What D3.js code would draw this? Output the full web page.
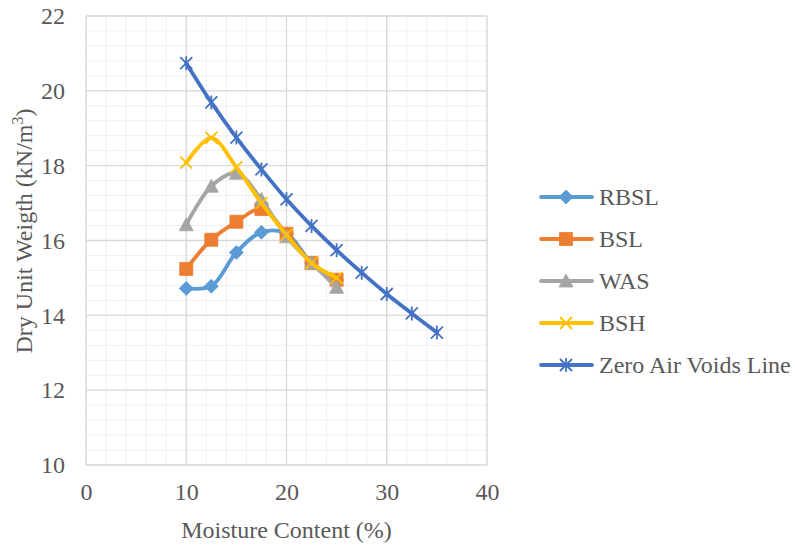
<!DOCTYPE html>
<html>
<head>
<meta charset="utf-8">
<script src="https://cdn.jsdelivr.net/npm/d3@7"></script>
</head>
<body style="margin:0; background:#fff">
<svg id="chart" width="795" height="545"></svg>
<script>
// moisture content (%) for each series
const xLab = [10, 12.5, 15, 17.5, 20, 22.5, 25];
const xZav = [10, 12.5, 15, 17.5, 20, 22.5, 25, 27.5, 30, 32.5, 35];

// dry unit weight (kN/m3)
const rbsl = [14.72, 14.78, 15.68, 16.22, 16.18, 15.40, 14.95];
const bsl  = [15.24, 16.02, 16.50, 16.84, 16.18, 15.40, 14.95];
const was  = [16.42, 17.45, 17.80, 17.10, 16.10, 15.40, 14.75];
const bsh  = [18.08, 18.74, 17.96, 17.00, 16.15, 15.40, 15.00];
const zav  = [20.74, 19.69, 18.75, 17.90, 17.10, 16.39, 15.74, 15.14, 14.57, 14.05, 13.54];

const seriesNames = ["RBSL", "BSL", "WAS", "BSH", "Zero Air Voids Line"];
const seriesColors = ["#5B9BD5", "#ED7D31", "#A5A5A5", "#FFC000", "#4472C4"];
const seriesMarkers = ["diamond", "square", "triangle", "x", "star"];

const xTicks = [0, 10, 20, 30, 40];
const yTicks = [10, 12, 14, 16, 18, 20, 22];

const FONT = "Liberation Serif";
const FS = 24;
const TXT = "#595959";

const svg = d3.select("#chart");
const plot = { left: 86, right: 487, top: 16, bottom: 465 };

const x = d3.scaleLinear().domain([0, 40]).range([plot.left, plot.right]);
const y = d3.scaleLinear().domain([10, 22]).range([plot.bottom, plot.top]);

// minor grid
const g = svg.append("g");
g.selectAll(".minor-x")
    .data(d3.range(0, 40.01, 2))
    .enter().append("line")
    .attr("x1", d => x(d)).attr("x2", d => x(d))
    .attr("y1", plot.top).attr("y2", plot.bottom)
    .attr("stroke", "#efefef").attr("stroke-width", 1);
g.selectAll(".minor-y")
    .data(d3.range(10, 22.01, 0.4))
    .enter().append("line")
    .attr("y1", d => y(d)).attr("y2", d => y(d))
    .attr("x1", plot.left).attr("x2", plot.right)
    .attr("stroke", "#efefef").attr("stroke-width", 1);

// major grid
g.selectAll(".major-x")
    .data(xTicks)
    .enter().append("line")
    .attr("x1", d => x(d)).attr("x2", d => x(d))
    .attr("y1", plot.top).attr("y2", plot.bottom)
    .attr("stroke", "#d9d9d9").attr("stroke-width", 1.3);
g.selectAll(".major-y")
    .data(yTicks)
    .enter().append("line")
    .attr("y1", d => y(d)).attr("y2", d => y(d))
    .attr("x1", plot.left).attr("x2", plot.right)
    .attr("stroke", "#d9d9d9").attr("stroke-width", 1.3);

// axes (labels only)
const xAxis = svg.append("g")
    .attr("transform", `translate(0,${plot.bottom})`)
    .call(d3.axisBottom(x).tickValues(xTicks).tickSize(0).tickPadding(18));
const yAxis = svg.append("g")
    .attr("transform", `translate(${plot.left},0)`)
    .call(d3.axisLeft(y).tickValues(yTicks).tickSize(0).tickPadding(21));
[xAxis, yAxis].forEach(a => {
    a.select(".domain").remove();
    a.attr("font-family", FONT).attr("font-size", FS);
    a.selectAll("text").attr("fill", TXT);
});

// axis titles
svg.append("text")
    .attr("x", (plot.left + plot.right) / 2)
    .attr("y", 538)
    .attr("text-anchor", "middle")
    .attr("font-family", FONT)
    .attr("font-size", FS)
    .attr("fill", TXT)
    .text("Moisture Content (%)");

const yTitle = svg.append("text")
    .attr("transform", "translate(32,231) rotate(-90)")
    .attr("text-anchor", "middle")
    .attr("font-family", FONT)
    .attr("font-size", FS)
    .attr("fill", TXT);
yTitle.append("tspan").text("Dry Unit Weigth (kN/m");
yTitle.append("tspan").attr("dy", -9).attr("font-size", 16).text("3");
yTitle.append("tspan").attr("dy", 9).text(")");

// marker paths
function markerPath(type) {
    switch (type) {
        case "diamond": return "M0,-7L7,0L0,7L-7,0Z";
        case "square": return "M-6.5,-6.5H6.5V6.5H-6.5Z";
        case "triangle": return "M0,-7L7,6L-7,6Z";
        case "x": return "M-6,-6L6,6M-6,6L6,-6";
        case "star": return "M-6,-6L6,6M-6,6L6,-6M0,-7V7";
    }
}

const line = d3.line()
    .x(d => x(d[0]))
    .y(d => y(d[1]))
    .curve(d3.curveCatmullRom.alpha(0.5));

const allSeries = [
    { xs: xLab, ys: rbsl },
    { xs: xLab, ys: bsl },
    { xs: xLab, ys: was },
    { xs: xLab, ys: bsh },
    { xs: xZav, ys: zav }
];

allSeries.forEach((s, i) => {
    const pts = s.xs.map((v, j) => [v, s.ys[j]]);
    const color = seriesColors[i];
    const type = seriesMarkers[i];
    const sg = svg.append("g");
    sg.append("path")
        .datum(pts)
        .attr("d", line)
        .attr("fill", "none")
        .attr("stroke", color)
        .attr("stroke-width", 3.8)
        .attr("stroke-linecap", "round")
        .attr("stroke-linejoin", "round");
    const stroked = type === "x" || type === "star";
    sg.selectAll(".m")
        .data(pts)
        .enter().append("path")
        .attr("transform", d => `translate(${x(d[0])},${y(d[1])})`)
        .attr("d", markerPath(type))
        .attr("fill", stroked ? "none" : color)
        .attr("stroke", color)
        .attr("stroke-width", stroked ? 1.8 : 0.8);
});

// legend
const legend = svg.append("g");
const legY = [197, 239, 281, 323, 365];
seriesNames.forEach((name, i) => {
    const row = legend.append("g").attr("transform", `translate(0,${legY[i]})`);
    const type = seriesMarkers[i];
    const stroked = type === "x" || type === "star";
    row.append("line")
        .attr("x1", 541).attr("x2", 592)
        .attr("stroke", seriesColors[i])
        .attr("stroke-width", 3.8)
        .attr("stroke-linecap", "round");
    row.append("path")
        .attr("transform", "translate(566,0)")
        .attr("d", markerPath(type))
        .attr("fill", stroked ? "none" : seriesColors[i])
        .attr("stroke", seriesColors[i])
        .attr("stroke-width", stroked ? 1.8 : 0.8);
    row.append("text")
        .attr("x", 599)
        .attr("y", 8)
        .attr("font-family", FONT)
        .attr("font-size", FS)
        .attr("fill", TXT)
        .text(name);
});
</script>
</body>
</html>
